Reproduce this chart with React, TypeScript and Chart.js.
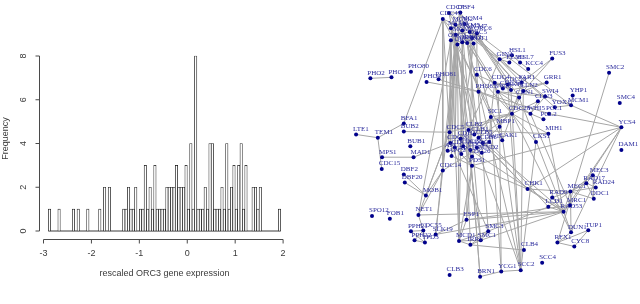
import React, { useEffect, useRef } from "react";
import { Chart, registerables } from "chart.js";

Chart.register(...registerables);

// ---------- Histogram data ----------
const BIN_START = -2.9;
const BIN_WIDTH = 0.05;
const HIST_COUNTS = [
  1, 0, 0, 0, 1, 0, 0, 0, 0, 0,
  1, 0, 1, 0, 0, 0, 1, 0, 0, 0,
  0, 1, 0, 2, 0, 2, 0, 0, 0, 0,
  0, 1, 1, 2, 1, 1, 2, 0, 1, 1,
  3, 1, 2, 1, 3, 1, 1, 1, 1, 2,
  2, 2, 2, 3, 2, 2, 2, 3, 1, 4,
  1, 8, 1, 1, 1, 2, 1, 4, 4, 1,
  1, 1, 2, 1, 4, 1, 2, 3, 1, 3,
  4, 1, 3, 0, 0, 2, 2, 1, 2, 0,
  0, 0, 0, 0, 0, 0, 1,
];
const X_TICKS = [-3, -2, -1, 0, 1, 2];
const Y_TICKS = [0, 2, 4, 6, 8];
const X_TITLE = "rescaled ORC3 gene expression";
const Y_TITLE = "Frequency";

// ---------- Network data (layout units) ----------
const NODE_NAMES = [
  "PHO2", "PHO5", "PHO80", "PHO4", "PHO81", "LTE1", "TEM1", "BFA1", "BUB2", "BUB1",
  "MPS1", "MAD1", "CDC15", "DBF2", "DBF20", "MOB1", "CDC14", "PDS1", "NET1", "SPO12",
  "FOB1", "PPH21", "CDC55", "PPH22", "TPD3", "SLK19", "MCD1", "ESP1", "SMC3", "SMC1",
  "IRR1", "CLB4", "CLB3", "BRN1", "YCG1", "SCC2", "SCC4", "CHK1", "RAD9", "LCD1",
  "MEC1", "MEC3", "RAD17", "RAD24", "DDC1", "MRC1", "RAD53", "TUP1", "DUN1", "RFX1",
  "CYC8", "SMC2", "SMC4", "YCS4", "DAM1", "YHP1", "MCM1", "YOX1", "SWI4", "CLN3",
  "PCL1", "PCL2", "WHI5", "CDC28", "SIC1", "MBP1", "CAK1", "CKS1", "MIH1", "FAR1",
  "GRR1", "FUS3", "KCC4", "HSL7", "HSL1", "GIN4", "ELM1", "CDC6", "CDC4", "CDC53",
  "CDC34", "SKP1", "SWI6", "PHO85", "CLN2", "CLN1",
  "CDC45", "CDC7", "DBF4", "MCM2", "MCM4", "MCM3", "MCM5", "MCM6", "MCM7", "ORC6",
  "ORC5", "ORC1", "ORC2", "ORC3", "ORC4", "CDT1",
  "CDC5", "CLB2", "CLB1", "CDH1", "CLB5", "CLB6", "SWI5", "CDC20", "APC1", "CDC16",
  "CDC23", "CDC27", "DOC1", "APC2", "APC11", "CDC26", "MND2",
];
const NODE_X = [
  112, 177, 237, 285, 322, 68, 135, 215, 215, 235,
  148, 245, 147, 215, 218, 283, 335, 425, 260, 117,
  172, 237, 275, 248, 280, 313, 385, 408, 475, 452,
  420, 585, 356, 450, 515, 575, 641, 596, 672, 660,
  728, 797, 777, 806, 800, 727, 707, 783, 730, 688,
  740, 847, 880, 885, 885, 735, 730, 680, 650, 628,
  662, 645, 605, 548, 483, 510, 518, 622, 660, 578,
  655, 672, 598, 573, 548, 510, 540, 440, 495, 535,
  520, 545, 505, 445, 583, 570,
  335, 354, 389, 374, 402, 360, 395, 375, 418, 440,
  425, 410, 360, 380, 395, 430,
  356, 414, 432, 390, 445, 458, 478, 358, 350, 372,
  398, 420, 440, 362, 392, 425, 455,
];
const NODE_Y = [
  229, 226, 209, 240, 232, 402, 412, 368, 393, 438,
  472, 472, 508, 525, 550, 590, 513, 498, 650, 653,
  662, 700, 698, 728, 735, 710, 730, 665, 700, 728,
  742, 758, 835, 840, 824, 820, 797, 570, 596, 625,
  578, 528, 552, 565, 600, 620, 640, 697, 703, 735,
  747, 212, 305, 380, 450, 282, 312, 318, 285, 300,
  338, 355, 338, 338, 348, 378, 420, 425, 400, 242,
  242, 168, 200, 180, 158, 170, 180, 218, 243, 248,
  260, 265, 270, 270, 268, 288,
  46, 28, 26, 64, 62, 75, 82, 95, 86, 90,
  105, 120, 112, 125, 118, 122,
  395, 388, 402, 415, 412, 428, 425, 428, 452, 442,
  438, 450, 442, 468, 462, 470, 458,
];
const EDGE_FROM = [
  "PHO2", "PHO4", "PHO81", "LTE1", "TEM1", "TEM1", "BUB2", "BFA1", "MPS1", "MAD1",
  "DBF2", "DBF20", "MOB1", "MOB1", "NET1", "NET1", "NET1", "NET1", "PPH21", "PPH22",
  "TPD3", "PPH21", "PPH22", "SLK19", "SLK19", "SLK19", "SLK19", "MCD1", "MCD1", "MCD1",
  "MCD1", "MCD1", "SMC1", "SMC1", "SMC3", "ESP1", "ESP1", "ESP1", "SMC3", "SMC1",
  "IRR1", "MCD1", "SMC1", "SMC3", "YCG1", "YCG1", "BRN1", "YCG1", "YCG1", "CDC4",
  "CLN2", "SKP1", "CDC53", "CKS1", "CHK1", "CHK1", "CHK1", "CHK1", "RAD9", "RAD9",
  "LCD1", "LCD1", "MEC1", "MEC1", "MEC1", "MEC1", "MEC1", "MEC3", "RAD17", "RAD24",
  "MEC3", "MRC1", "MRC1", "DUN1", "DUN1", "TUP1", "RFX1", "RFX1", "DUN1", "SMC2",
  "YCS4", "YCS4", "YCS4", "YCS4", "YCS4", "YCS4", "YCS4", "FUS3", "FUS3", "GRR1",
  "GRR1", "HSL1", "GIN4", "KCC4", "ELM1", "ELM1", "GIN4", "CDC4", "CDC53", "CDC34",
  "CDC53", "CDC34", "CLN1", "SWI4", "SWI4", "SWI6", "SWI6", "MBP1", "SIC1", "SIC1",
  "CDC28", "CDC28", "CDC28", "CDC28", "CDC28", "CDC28", "PCL1", "PCL2", "YOX1", "YHP1",
  "SWI4", "WHI5", "WHI5", "CLN3", "MIH1", "MIH1", "FAR1", "FAR1", "CDC6", "CDC6",
  "CDC6", "SIC1", "MBP1", "SWI5", "SWI5", "MIH1",
  "CDC45", "CDC45", "CDC7", "DBF4", "CDC7", "MCM2", "MCM3", "MCM4", "MCM5", "MCM6",
  "MCM7", "ORC1", "ORC2", "ORC3", "ORC4", "ORC5", "ORC1", "CDT1", "CDT1", "ORC6",
  "DBF4", "ORC1", "ORC2", "ORC3", "MCM2", "MCM3", "MCM6", "CDT1", "ORC5", "ORC4",
  "MCM5", "MCM7", "CDC45", "DBF4", "ORC1", "MCM5", "MCM7", "ORC6", "DBF4", "ORC1",
  "CDC7", "MCM4", "CDT1", "ORC6", "MCM7", "ORC5", "CDC45", "MCM3", "DBF4", "ORC4",
  "CLB1", "CDC5", "CDC20", "CDC16", "CDC5", "CLB2", "CLB2", "CDH1", "APC2", "CDC27",
  "ORC2", "MCM6", "ORC3", "MCM2", "ORC6", "MCM4", "CLN1", "WHI5", "CDC28", "CLB6",
  "SWI5", "CDC45", "ORC2", "MCM3", "CDC7", "MCM6", "ORC4", "CLB5", "CDC20", "DOC1",
];
const EDGE_TO = [
  "PHO5", "PHO85", "PHO85", "TEM1", "BFA1", "CDC15", "CDC5", "CDC45", "MAD1", "CDC20",
  "MOB1", "MOB1", "CDC14", "CDC5", "CDC14", "RAD53", "CDC55", "ORC2", "CDC55", "CDC55",
  "CDC55", "TPD3", "TPD3", "CDC14", "ESP1", "RAD53", "MCM6", "SMC1", "SMC3", "IRR1",
  "ESP1", "PDS1", "SMC3", "IRR1", "IRR1", "PDS1", "RAD53", "MRC1", "LCD1", "RAD53",
  "CLB4", "ORC3", "MCM5", "CDC6", "BRN1", "SCC2", "CLB2", "SIC1", "MBP1", "SCC2",
  "SCC2", "SCC2", "SCC2", "SCC2", "PDS1", "MEC1", "RAD53", "CLB5", "RAD53", "MEC1",
  "MEC1", "RAD53", "RAD53", "DDC1", "RAD17", "RAD24", "MEC3", "DDC1", "DDC1", "RAD17",
  "RAD17", "RAD53", "MEC1", "RAD53", "MEC1", "CYC8", "CYC8", "TUP1", "RFX1", "RFX1",
  "PDS1", "RAD53", "MRC1", "DUN1", "MCM1", "PCL1", "CHK1", "FAR1", "CLN2", "CLN2",
  "SKP1", "HSL7", "HSL1", "HSL7", "HSL1", "GIN4", "CLB2", "SKP1", "SKP1", "CDC4",
  "CDC4", "CDC53", "CLN2", "SWI6", "CLN2", "CLN1", "MBP1", "CLN1", "CDC4", "CDC28",
  "CLN2", "CKS1", "CAK1", "CLN3", "CLB2", "CLB5", "PHO85", "PHO85", "MCM1", "MCM1",
  "MCM1", "SWI4", "SWI6", "WHI5", "CDC28", "CLB2", "CDC28", "CLN2", "ORC6", "CDC4",
  "CDC28", "CLB5", "CLB6", "SIC1", "CDC14", "RAD53",
  "MCM2", "MCM3", "DBF4", "MCM2", "MCM4", "MCM3", "MCM4", "MCM5", "MCM6", "MCM7",
  "MCM2", "ORC2", "ORC3", "ORC4", "ORC5", "ORC6", "ORC6", "ORC1", "MCM7", "MCM4",
  "CDC5", "CLB5", "CDC20", "CLB2", "CDC16", "CLB6", "APC1", "CDH1", "CDC27", "APC11",
  "CDC23", "CLB1", "CDC14", "CDC14", "SWI6", "CDC4", "CLN2", "SKP1", "CDC53", "PHO85",
  "CDC28", "FAR1", "SIC1", "MCM1", "YOX1", "SWI4", "MBP1", "CAK1", "SCC2", "IRR1",
  "SIC1", "CDC28", "PDS1", "PDS1", "NET1", "BRN1", "ESP1", "PDS1", "PDS1", "RAD53",
  "CDC5", "CDC20", "CDC16", "APC2", "CLN1", "CLN2", "RAD53", "MRC1", "DUN1", "CHK1",
  "LCD1", "CDC5", "MCD1", "SMC1", "CLB1", "CDC23", "MCD1", "RAD53", "SMC3", "SCC2",
];

const TEXT_FONT = '"Liberation Sans", Arial, sans-serif';
const LABEL_FONT = '"Liberation Serif", "Times New Roman", serif';

function Histogram() {
  const ref = useRef<HTMLCanvasElement>(null);
  useEffect(() => {
    if (!ref.current) return;
    const n = HIST_COUNTS.length;
    const barData = HIST_COUNTS.map((c, k) => ({ x: BIN_START + (k + 0.5) * BIN_WIDTH, y: c }));
    const baseData = [
      { x: BIN_START, y: 0 },
      { x: BIN_START + n * BIN_WIDTH, y: 0 },
    ];
    const axesPlugin = {
      id: "rAxes",
      afterDraw(chart: any) {
        const ctx = chart.ctx;
        const xs = chart.scales.x;
        const ys = chart.scales.y;
        const ca = chart.chartArea;
        ctx.save();
        ctx.strokeStyle = "#4a4a4a";
        ctx.lineWidth = 1;
        ctx.fillStyle = "#3a3a3a";
        ctx.font = `9px ${TEXT_FONT}`;
        // x axis
        const ay = Math.round(ca.bottom) + 1.5;
        const x0 = xs.getPixelForValue(X_TICKS[0]);
        const x1 = xs.getPixelForValue(X_TICKS[X_TICKS.length - 1]);
        ctx.beginPath();
        ctx.moveTo(x0, ay);
        ctx.lineTo(x1, ay);
        X_TICKS.forEach((t) => {
          const px = xs.getPixelForValue(t);
          ctx.moveTo(px, ay);
          ctx.lineTo(px, ay + 4);
        });
        ctx.stroke();
        ctx.textAlign = "center";
        ctx.textBaseline = "middle";
        X_TICKS.forEach((t) => {
          const px = xs.getPixelForValue(t);
          ctx.fillText(String(t), px, ay + 14);
        });
        ctx.fillText(X_TITLE, (ca.left + ca.right) / 2, ay + 34);
        // y axis
        const axx = Math.round(ca.left) + 0.5;
        const y0 = ys.getPixelForValue(Y_TICKS[0]);
        const y1 = ys.getPixelForValue(Y_TICKS[Y_TICKS.length - 1]);
        ctx.beginPath();
        ctx.moveTo(axx, y0);
        ctx.lineTo(axx, y1);
        Y_TICKS.forEach((t) => {
          const py = ys.getPixelForValue(t);
          ctx.moveTo(axx, py);
          ctx.lineTo(axx - 4, py);
        });
        ctx.stroke();
        Y_TICKS.forEach((t) => {
          const py = ys.getPixelForValue(t);
          ctx.save();
          ctx.translate(axx - 16, py);
          ctx.rotate(-Math.PI / 2);
          ctx.fillText(String(t), 0, 0);
          ctx.restore();
        });
        ctx.save();
        ctx.translate(6, (ca.top + ca.bottom) / 2 - 5);
        ctx.rotate(-Math.PI / 2);
        ctx.fillText(Y_TITLE, 0, 0);
        ctx.restore();
        ctx.restore();
      },
    };
    const chart = new Chart(ref.current, {
      type: "bar",
      data: {
        datasets: [
          {
            type: "bar",
            data: barData as any,
            backgroundColor: "#ffffff",
            borderColor: "#111111",
            borderWidth: 0.7,
            borderSkipped: false,
            barPercentage: 1,
            categoryPercentage: 1,
            order: 1,
          } as any,
          {
            type: "line",
            data: baseData as any,
            borderColor: "#3a3a3a",
            borderWidth: 1,
            pointRadius: 0,
            order: 2,
          } as any,
        ],
      },
      options: {
        animation: false,
        responsive: false,
        devicePixelRatio: 1,
        layout: { padding: { left: 39, right: 40, top: 49, bottom: 66 } },
        plugins: { legend: { display: false }, tooltip: { enabled: false } },
        scales: {
          x: { type: "linear", min: -3.094, max: 2.144, offset: false, display: false },
          y: { type: "linear", min: -0.32, max: 8.32, display: false },
        },
      },
      plugins: [axesPlugin],
    });
    return () => chart.destroy();
  }, []);
  return <canvas ref={ref} width={330} height={304} style={{ display: "block" }} />;
}

function Network() {
  const ref = useRef<HTMLCanvasElement>(null);
  useEffect(() => {
    if (!ref.current) return;
    const idx: Record<string, number> = {};
    NODE_NAMES.forEach((nm, i) => (idx[nm] = i));
    const edgePts: { x: number; y: number }[] = [];
    EDGE_FROM.forEach((a, k) => {
      const i = idx[a];
      const j = idx[EDGE_TO[k]];
      if (i === undefined || j === undefined) return;
      edgePts.push({ x: NODE_X[i], y: NODE_Y[i] });
      edgePts.push({ x: NODE_X[j], y: NODE_Y[j] });
      edgePts.push({ x: NaN, y: NaN });
    });
    const nodePts = NODE_NAMES.map((_, i) => ({ x: NODE_X[i], y: NODE_Y[i] }));
    const labelPlugin = {
      id: "nodeLabels",
      afterDatasetsDraw(chart: any) {
        const ctx = chart.ctx;
        const xs = chart.scales.x;
        const ys = chart.scales.y;
        ctx.save();
        ctx.font = `7px ${LABEL_FONT}`;
        ctx.fillStyle = "#2a2a9c";
        ctx.textAlign = "left";
        ctx.textBaseline = "middle";
        NODE_NAMES.forEach((nm, i) => {
          const px = xs.getPixelForValue(NODE_X[i]);
          const py = ys.getPixelForValue(NODE_Y[i]);
          ctx.fillText(nm, px - 3, py - 5.5);
        });
        ctx.restore();
      },
    };
    const chart = new Chart(ref.current, {
      type: "scatter",
      data: {
        datasets: [
          {
            data: edgePts as any,
            showLine: true,
            spanGaps: false,
            borderColor: "#a6a6a6",
            borderWidth: 1,
            pointRadius: 0,
            clip: false,
            order: 2,
          } as any,
          {
            data: nodePts as any,
            pointRadius: 2,
            pointBackgroundColor: "#00008b",
            pointBorderColor: "#00008b",
            pointBorderWidth: 0,
            clip: false,
            order: 1,
          } as any,
        ],
      },
      options: {
        animation: false,
        responsive: false,
        devicePixelRatio: 1,
        layout: { padding: 0 },
        plugins: { legend: { display: false }, tooltip: { enabled: false } },
        scales: {
          x: { type: "linear", min: 0, max: 930, display: false },
          y: { type: "linear", min: 0, max: 912, reverse: true, display: false },
        },
      },
      plugins: [labelPlugin],
    });
    return () => chart.destroy();
  }, []);
  return <canvas ref={ref} width={310} height={304} style={{ display: "block" }} />;
}

export default function App() {
  return (
    <div
      style={{
        position: "fixed",
        left: 0,
        top: 0,
        width: 640,
        height: 304,
        background: "#ffffff",
        overflow: "hidden",
      }}
    >
      <div style={{ position: "absolute", left: 0, top: 0 }}>
        <Histogram />
      </div>
      <div style={{ position: "absolute", left: 330, top: 0 }}>
        <Network />
      </div>
    </div>
  );
}
